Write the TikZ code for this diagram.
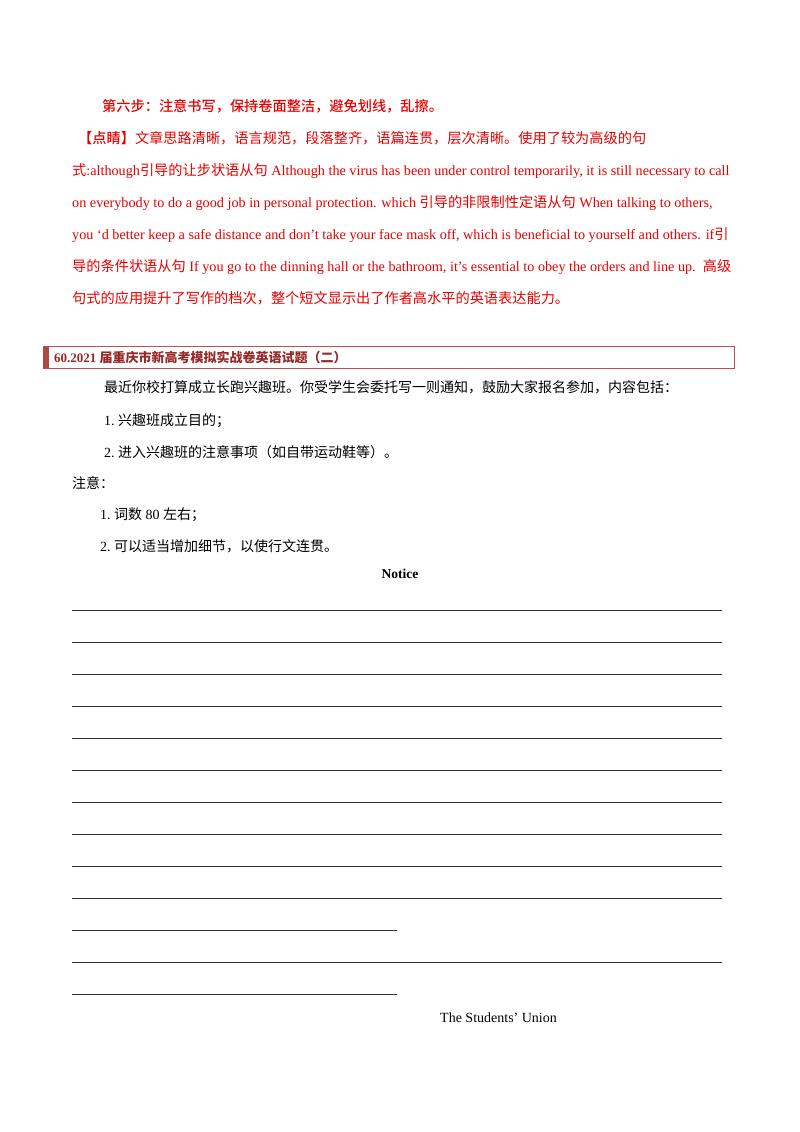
\documentclass[tikz,border=0pt]{standalone}
\usepackage{fontspec}
\setmainfont{Liberation Serif}
\newfontfamily\cjk{Noto Sans CJK SC}
\newfontfamily\cjkb{Noto Sans CJK SC Medium}
\definecolor{myred}{RGB}{230,0,0}
\definecolor{hdred}{RGB}{192,80,77}
\definecolor{hdtxt}{RGB}{150,40,40}
\begin{document}
\begin{tikzpicture}[x=1pt,y=-1pt,
  red/.style={anchor=base west,inner sep=0,text=myred,font=\fontsize{14.2}{16}\selectfont},
  blk/.style={anchor=base west,inner sep=0,font=\fontsize{14}{16}\selectfont},
  wl/.style={draw=black!80,line width=0.6pt}]
\useasboundingbox (0,0) rectangle (800,1132);
\node[red] (r1) at (102,111) {\cjkb 第六步：注意书写，保持卷面整洁，避免划线，乱擦。};
\node[red] (r2) at (78,143) {\cjkb 【点睛】{\cjk 文章思路清晰，语言规范，段落整齐，语篇连贯，层次清晰。使用了较为高级的句}};
\node[red] (r3) at (72,175) {{\cjk 式}:although{\cjk 引导的让步状语从句} Although the virus has been under control temporarily, it is still necessary to call};
\node[red] (r4) at (72,207) {on everybody to do a good job in personal protection. which {\cjk 引导的非限制性定语从句} When talking to others,};
\node[red] (r5) at (72,239) {you ‘d better keep a safe distance and don’t take your face mask off, which is beneficial to yourself and others. if{\cjk 引}};
\node[red] (r6) at (72,271) {{\cjk 导的条件状语从句} If you go to the dinning hall or the bathroom, it’s essential to obey the orders and line up.\ \ {\cjk 高级}};
\node[red] (r7) at (72,303) {\cjk 句式的应用提升了写作的档次，整个短文显示出了作者高水平的英语表达能力。};
\draw[hdred,line width=0.8pt] (43,346.5) rectangle (734,368);
\fill[hdred!90!black] (43,346.5) rectangle (49,368);
\node[anchor=base west,inner sep=0,text=hdtxt,font=\fontsize{13}{15}\selectfont\bfseries] (hd) at (54,362.5) {60.2021 {\cjkb 届重庆市新高考模拟实战卷英语试题（二）}};
\node[blk] (b1) at (104,392) {\cjk 最近你校打算成立长跑兴趣班。你受学生会委托写一则通知，鼓励大家报名参加，内容包括：};
\node[blk] (b2) at (104,425) {1.\ {\cjk 兴趣班成立目的；}};
\node[blk] (b3) at (104,457) {2.\ {\cjk 进入兴趣班的注意事项（如自带运动鞋等）。}};
\node[blk] (b4) at (72,488) {\cjk 注意：};
\node[blk] (b5) at (100,519) {1.\ {\cjk 词数} 80 {\cjk 左右；}};
\node[blk] (b6) at (100,551) {2.\ {\cjk 可以适当增加细节，以使行文连贯。}};
\node[anchor=base,inner sep=0,font=\fontsize{13.5}{15}\selectfont\bfseries] (nt) at (400,578) {Notice};
\foreach \y in {610,642,674,706,738,770,802,834,866,898,962} \draw[wl] (72,\y) -- (722,\y);
\foreach \y in {930,994} \draw[wl] (72,\y) -- (397,\y);
\node[blk] (su) at (440,1022) {The Students’ Union};
\end{tikzpicture}
\end{document}
